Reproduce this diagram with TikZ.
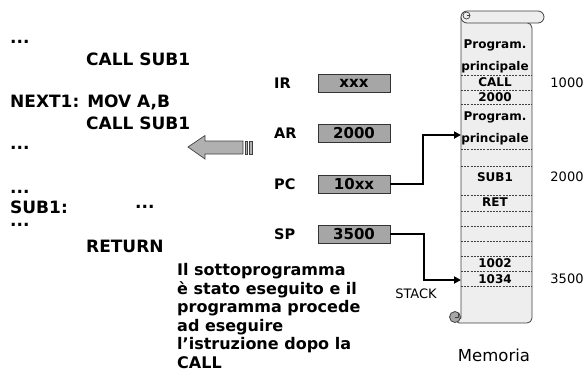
\documentclass[tikz,border=0pt]{standalone}
\usepackage{fontspec}
\setmainfont{DejaVu Sans}
\usetikzlibrary{arrows.meta}
\definecolor{regfill}{HTML}{A6A6A6}
\definecolor{arrfill}{HTML}{B0B0B0}
\definecolor{scrfill}{HTML}{EEEEEE}
\definecolor{scrline}{HTML}{404040}
\tikzset{
  code/.style={anchor=west,inner sep=0pt,font=\fontsize{17}{20}\selectfont\bfseries},
  reglabel/.style={anchor=west,inner sep=0pt,font=\fontsize{14.5}{17}\selectfont\bfseries},
  reg/.style={draw=black!80,line width=0.8pt,fill=regfill,minimum width=72pt,minimum height=18pt,inner sep=0pt,font=\fontsize{15}{17}\selectfont\bfseries},
  cell/.style={inner sep=0pt,font=\fontsize{12}{14}\selectfont\bfseries},
  addr/.style={inner sep=0pt,font=\fontsize{13}{15}\selectfont},
  sep/.style={draw=scrline,line width=0.6pt,dash pattern=on 2pt off 1.2pt},
  scr/.style={draw=scrline,line width=0.8pt},
  conn/.style={line width=2pt,-{Triangle[length=7pt,width=7pt]}},
}
\begin{document}
\begin{tikzpicture}[x=1pt,y=-1pt]
\useasboundingbox (0,0) rectangle (588,368);
% left code
\node[code] (d1) at (10,42) {...};
\node[code] (c1) at (86,59) {CALL SUB1};
\node[code] (n1) at (10,102) {NEXT1: MOV A,B};
\node[code] (c2) at (86,123) {CALL SUB1};
\node[code] (d2) at (10,148) {...};
\node[code] (d3) at (10,192) {...};
\node[code] (s1) at (10,207) {SUB1:};
\node[code] (d4) at (135,207) {...};
\node[code] (d5) at (10,225) {...};
\node[code] (rt) at (86,246) {RETURN};
% description
\node[anchor=north west,inner sep=0pt,align=left,font=\fontsize{16}{18.5}\selectfont\bfseries] (desc) at (177,263.5)
 {Il sottoprogramma\\è stato eseguito e il\\programma procede\\ad eseguire\\l’istruzione dopo la\\CALL};
% registers
\node[reglabel] (lir) at (274,83) {IR};
\node[reglabel] (lar) at (274,133) {AR};
\node[reglabel] (lpc) at (274,184) {PC};
\node[reglabel] (lsp) at (274,234) {SP};
\node[reg] (ir) at (354,83) {xxx};
\node[reg] (ar) at (354,133) {2000};
\node[reg] (pc) at (354,184) {10xx};
\node[reg] (sp) at (354,234) {3500};
% block arrow
\draw[draw=black!75,line width=0.7pt,fill=arrfill] (188,147) -- (205,135.5) -- (205,141) -- (243,141) -- (243,154) -- (205,154) -- (205,159) -- cycle;
\draw[draw=black!75,line width=0.7pt,fill=arrfill] (245,141) rectangle (247.5,154);
\draw[draw=black!75,line width=0.7pt,fill=arrfill] (249.5,141) rectangle (252,154);
% scroll body
\draw[scr,fill=scrfill,rounded corners=5pt] (532,23) -- (532,323) -- (455,323) {[sharp corners] -- (461,318) -- (461,17)} -- cycle;
\draw[scr,fill=scrfill,rounded corners=6pt] (461,11) rectangle (544,23);
\draw[scr,line width=0.7pt] (466.5,15.5) circle[radius=3.5];
\draw[scr,line width=0.7pt] (466.5,15.5) -- (470,15.5);
\draw[scr,fill=regfill] (455,317) circle[radius=5.5];
\draw[scr,line width=0.6pt] (455,317) -- (458.5,317) -- (458.5,313);
% separators
\foreach \yy in {75,90,104,149,166,195,211,226,241,256,271,286}
  \draw[sep] (461,\yy) -- (532,\yy);
% cell texts
\node[cell] (t1) at (495,45) {Program.};
\node[cell] (t2) at (495,67) {principale};
\node[cell] (t3) at (495,82.5) {CALL};
\node[cell] (t4) at (495,97) {2000};
\node[cell] (t5) at (495,117) {Program.};
\node[cell] (t6) at (495,139) {principale};
\node[cell] (t7) at (495,177) {SUB1};
\node[cell] (t8) at (495,202) {RET};
\node[cell] (t9) at (495,263) {1002};
\node[cell] (t10) at (495,279) {1034};
% addresses
\node[addr] (a1) at (567,83) {1000};
\node[addr] (a2) at (567,177) {2000};
\node[addr] (a3) at (567,279) {3500};
\node[addr] (stk) at (416,294) {STACK};
\node[inner sep=0pt,font=\fontsize{16.5}{19}\selectfont] (mem) at (494,355) {Memoria};
% connectors
\coordinate (m2) at (461,135);
\coordinate (m3) at (461,280);
\draw[conn] (pc.east) -- ++(33,0) |- (m2);
\draw[conn] (sp.east) -- ++(34,0) |- (m3);
\end{tikzpicture}
\end{document}
